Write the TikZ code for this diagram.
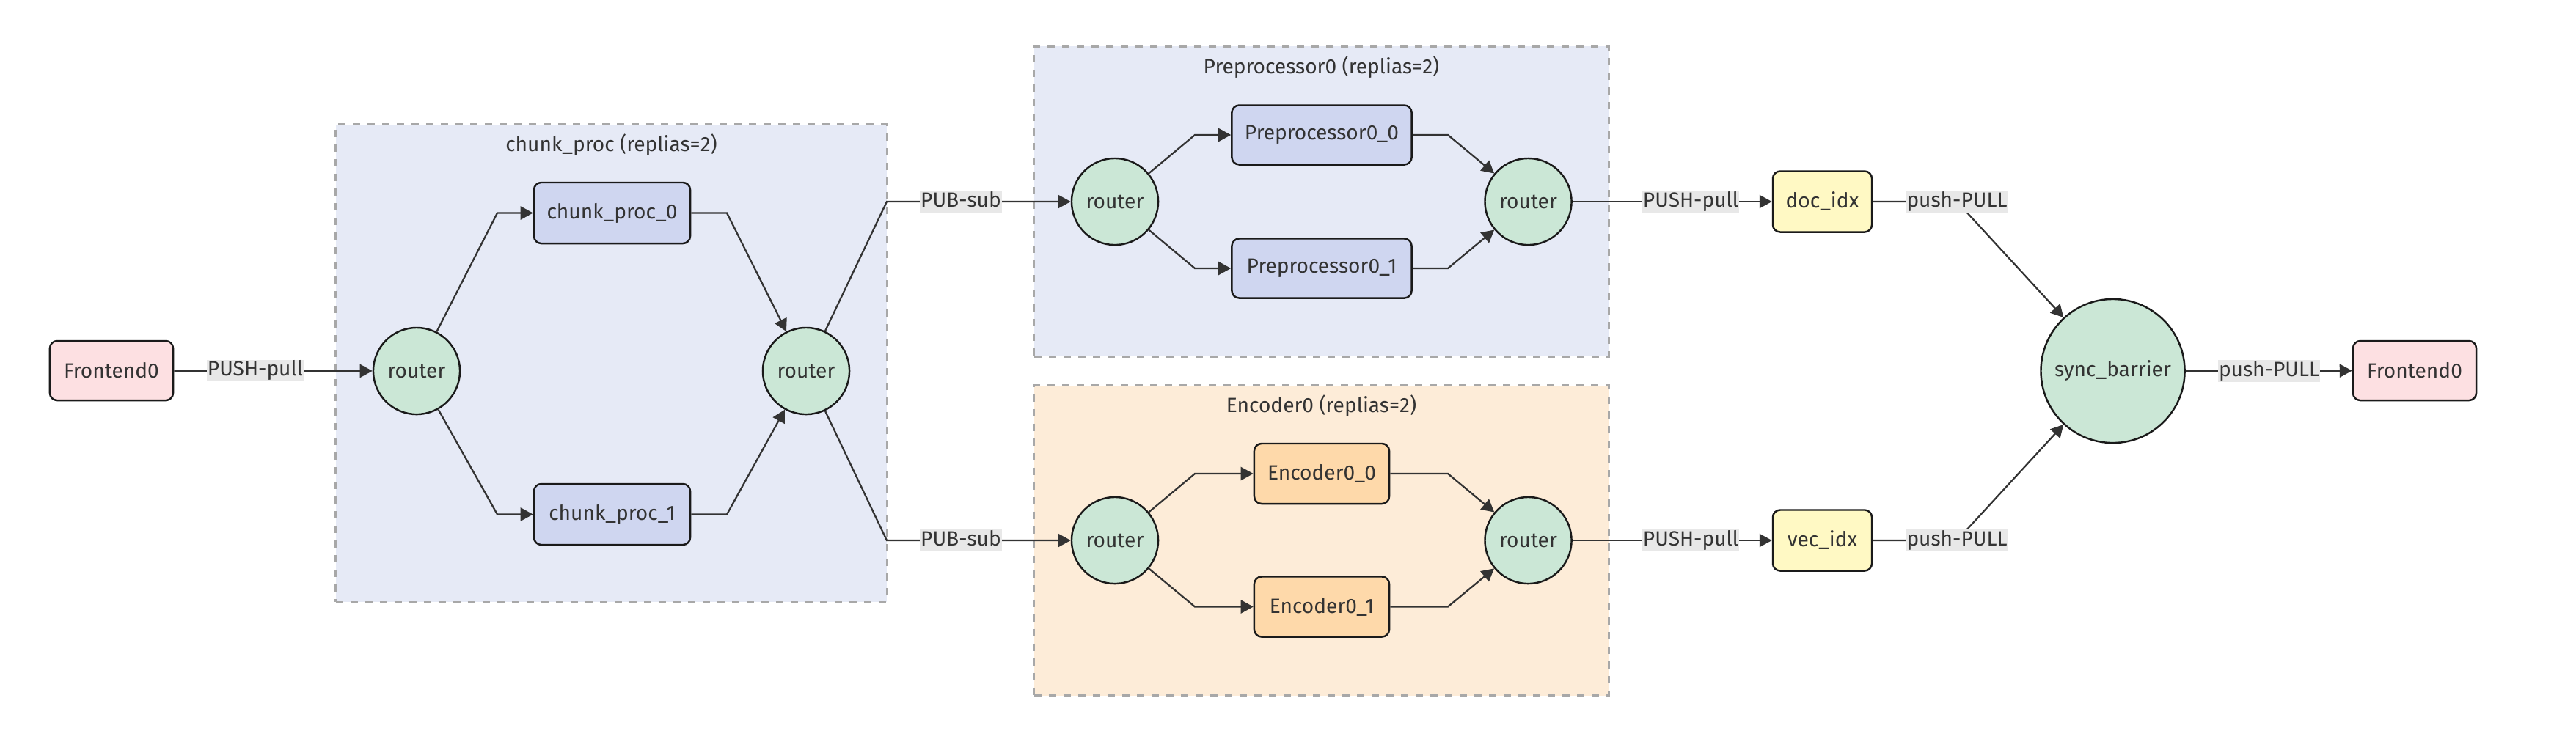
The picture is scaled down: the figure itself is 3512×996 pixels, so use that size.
\documentclass[tikz,border=0pt]{standalone}
\usepackage{fontspec}
\setmainfont{Fira Sans}
\usetikzlibrary{arrows.meta}
\definecolor{txt}{HTML}{333333}
\definecolor{edgec}{HTML}{333333}
\definecolor{bord}{HTML}{1A1A1A}
\definecolor{lblbg}{HTML}{E8E8E8}
\definecolor{pinkf}{HTML}{FDE0E2}
\definecolor{greenf}{HTML}{CBE7D6}
\definecolor{lavf}{HTML}{CFD6F0}
\definecolor{bluecl}{HTML}{E6EAF6}
\definecolor{peachcl}{HTML}{FDECD8}
\definecolor{orangef}{HTML}{FED9AA}
\definecolor{yellowf}{HTML}{FFF9C4}
\definecolor{clbord}{HTML}{A8A8A8}
\tikzset{
  base/.style={font=\fontsize{8}{10}\selectfont, text=txt},
  box/.style={base, rectangle, rounded corners=0.1cm, draw=bord, line width=0.7pt, inner sep=0pt},
  roundnode/.style={base, circle, draw=bord, line width=0.7pt, fill=greenf, inner sep=0pt},
  router/.style={roundnode, minimum size=1.18cm},
  clusterbox/.style={rectangle, draw=clbord, line width=0.9pt, dash pattern=on 0.1cm off 0.1cm, inner sep=0pt},
  ctitle/.style={base, inner sep=0pt},
  elabel/.style={base, fill=lblbg, inner xsep=0.3pt, inner ysep=0.55pt, text height=5.8pt, text depth=1.6pt},
  edge/.style={draw=edgec, line width=0.65pt, -{Triangle[length=0.17cm,width=0.18cm]}}
}
\begin{document}
\begin{tikzpicture}[x=0.01cm, y=-0.01cm]
\useasboundingbox (0,0) rectangle (3512,996);

% clusters
\node[clusterbox, fill=bluecl, minimum width=7.51cm, minimum height=6.51cm] (clchunk) at (833.5,495.5) {};
\node[clusterbox, fill=bluecl, minimum width=7.83cm, minimum height=4.225cm] (clpre) at (1801.5,274.75) {};
\node[clusterbox, fill=peachcl, minimum width=7.83cm, minimum height=4.225cm] (clenc) at (1801.5,737.25) {};
\node[ctitle] (tchunk) at (833.5,198) {chunk\_proc (replias=2)};
\node[ctitle] (tpre) at (1801.5,92) {Preprocessor0 (replias=2)};
\node[ctitle] (tenc) at (1801.5,554) {Encoder0 (replias=2)};

% nodes
\node[box, fill=pinkf, minimum width=1.68cm, minimum height=0.81cm] (fe1) at (152,505.5) {Frontend0};
\node[router] (r1) at (568,506) {router};
\node[box, fill=lavf, minimum width=2.13cm, minimum height=0.83cm] (cp0) at (834.5,290.5) {chunk\_proc\_0};
\node[box, fill=lavf, minimum width=2.13cm, minimum height=0.83cm] (cp1) at (834.5,701.5) {chunk\_proc\_1};
\node[router] (r2) at (1099,506) {router};

\node[router] (r3) at (1520,275) {router};
\node[box, fill=lavf, minimum width=2.45cm, minimum height=0.81cm] (p0) at (1802,184) {Preprocessor0\_0};
\node[box, fill=lavf, minimum width=2.45cm, minimum height=0.81cm] (p1) at (1802,366) {Preprocessor0\_1};
\node[router] (r4) at (2083.5,275) {router};

\node[router] (r5) at (1520,737) {router};
\node[box, fill=orangef, minimum width=1.84cm, minimum height=0.82cm] (e0) at (1802,646) {Encoder0\_0};
\node[box, fill=orangef, minimum width=1.84cm, minimum height=0.82cm] (e1) at (1802,827.5) {Encoder0\_1};
\node[router] (r6) at (2083.5,737) {router};

\node[box, fill=yellowf, minimum width=1.35cm, minimum height=0.83cm] (doc) at (2484.5,275) {doc\_idx};
\node[box, fill=yellowf, minimum width=1.35cm, minimum height=0.83cm] (vec) at (2484.5,737) {vec\_idx};
\node[roundnode, minimum size=1.96cm] (sync) at (2880.5,506) {sync\_barrier};
\node[box, fill=pinkf, minimum width=1.68cm, minimum height=0.81cm] (fe2) at (3292,505.5) {Frontend0};

% bend coordinates
\coordinate (b1u) at (678,290.5);
\coordinate (b1d) at (678,701.5);
\coordinate (b2u) at (991,290.5);
\coordinate (b2d) at (991,701.5);
\coordinate (b3u) at (1209,275);
\coordinate (b3d) at (1209,737);
\coordinate (bpa) at (1629,184);
\coordinate (bpb) at (1629,366);
\coordinate (bpc) at (1974,184);
\coordinate (bpd) at (1974,366);
\coordinate (bea) at (1629,646);
\coordinate (beb) at (1629,827.5);
\coordinate (bec) at (1974,646);
\coordinate (bed) at (1974,827.5);
\coordinate (bdoc) at (2668,275);
\coordinate (bvec) at (2668,737);

% edges
\draw[edge] (fe1) -- (r1);
\draw[edge] (r1) -- (b1u) -- (cp0);
\draw[edge] (r1) -- (b1d) -- (cp1);
\draw[edge] (cp0) -- (b2u) -- (r2);
\draw[edge] (cp1) -- (b2d) -- (r2);
\draw[edge] (r2) -- (b3u) -- (r3);
\draw[edge] (r2) -- (b3d) -- (r5);

\draw[edge] (r3) -- (bpa) -- (p0);
\draw[edge] (r3) -- (bpb) -- (p1);
\draw[edge] (p0) -- (bpc) -- (r4);
\draw[edge] (p1) -- (bpd) -- (r4);

\draw[edge] (r5) -- (bea) -- (e0);
\draw[edge] (r5) -- (beb) -- (e1);
\draw[edge] (e0) -- (bec) -- (r6);
\draw[edge] (e1) -- (bed) -- (r6);

\draw[edge] (r4) -- (doc);
\draw[edge] (r6) -- (vec);
\draw[edge] (doc) -- (bdoc) -- (sync);
\draw[edge] (vec) -- (bvec) -- (sync);
\draw[edge] (sync) -- (fe2);

% edge labels
\node[elabel] (l1) at (348,505.5) {PUSH-pull};
\node[elabel] (l2) at (1310,275) {PUB-sub};
\node[elabel] (l3) at (1310,737) {PUB-sub};
\node[elabel] (l4) at (2305,275) {PUSH-pull};
\node[elabel] (l5) at (2305,737) {PUSH-pull};
\node[elabel] (l6) at (2668,275) {push-PULL};
\node[elabel] (l7) at (2668,737) {push-PULL};
\node[elabel] (l8) at (3093.5,506) {push-PULL};
\end{tikzpicture}
\end{document}
